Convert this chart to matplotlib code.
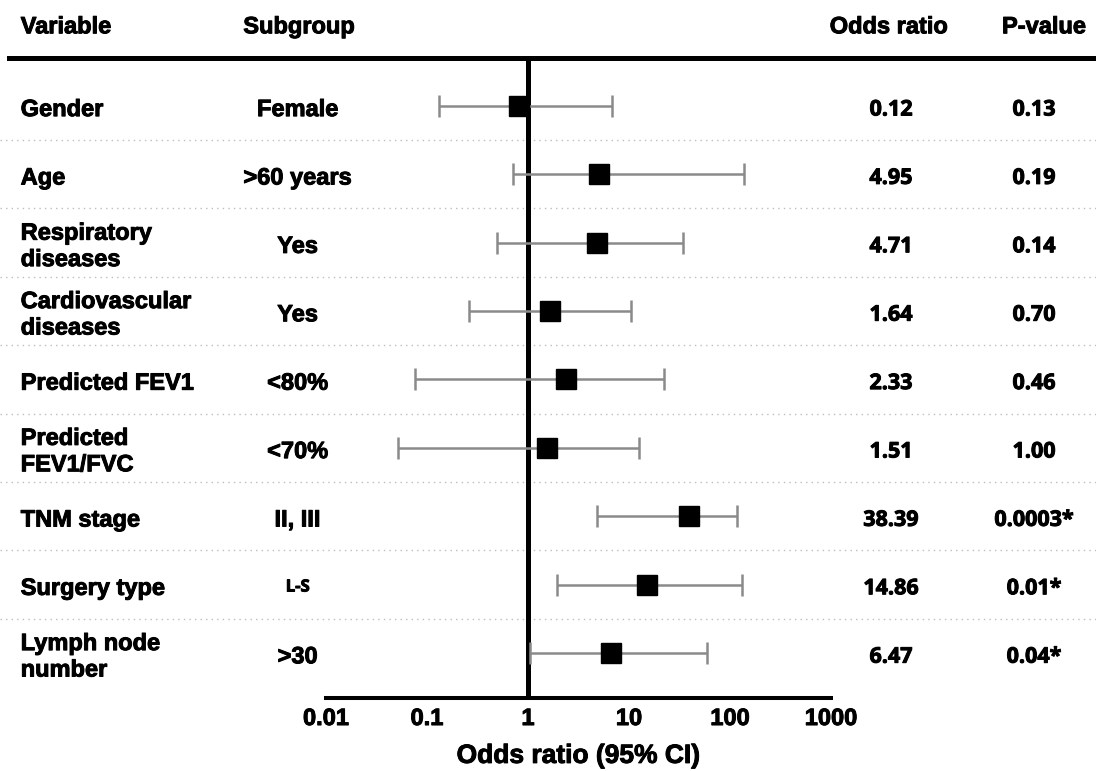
import matplotlib
matplotlib.use("Agg")
import matplotlib.pyplot as plt
import matplotlib.patheffects as pe
from matplotlib.lines import Line2D
from matplotlib.ticker import NullLocator, FixedLocator, FixedFormatter
from matplotlib.transforms import blended_transform_factory

plt.rcParams['font.family'] = ['Liberation Sans', 'DejaVu Sans']

# ---------------- data ----------------
variables = ["Gender", "Age", "Respiratory\ndiseases", "Cardiovascular\ndiseases",
             "Predicted FEV1", "Predicted\nFEV1/FVC", "TNM stage", "Surgery type",
             "Lymph node\nnumber"]
subgroups = ["Female", ">60 years", "Yes", "Yes", "<80%", "<70%", "II, III", "L-S", ">30"]
or_point = [0.81, 5.05, 4.79, 1.67, 2.36, 1.54, 39.1, 15.0, 6.59]
ci_low = [0.13, 0.71, 0.49, 0.26, 0.076, 0.052, 4.85, 1.94, 1.05]
ci_high = [6.84, 138, 34.3, 10.4, 22.2, 12.6, 116, 131, 59.2]
or_labels = ["0.12", "4.95", "4.71", "1.64", "2.33", "1.51", "38.39", "14.86", "6.47"]
p_labels = ["0.13", "0.19", "0.14", "0.70", "0.46", "1.00", "0.0003*", "0.01*", "0.04*"]
x_ticks = [0.01, 0.1, 1, 10, 100, 1000]
x_tick_labels = ["0.01", "0.1", "1", "10", "100", "1000"]
headers = ["Variable", "Subgroup", "Odds ratio", "P-value"]
x_label = "Odds ratio (95% CI)"

# ---------------- layout ----------------
W, H = 1096, 771
row0, dy = 105.7, 68.4          # pixel centre of first row and row spacing
top_px, bot_px = 57.5, 698.0
fig = plt.figure(figsize=(W / 100, H / 100), dpi=100)
ax = fig.add_axes([326 / W, 1 - bot_px / H, 505 / W, (bot_px - top_px) / H])
ax.set_xscale('log')
ax.set_xlim(0.01, 1000)
ax.set_ylim((bot_px - row0) / dy, (top_px - row0) / dy)

rows = list(range(len(variables)))
heavy = [pe.withStroke(linewidth=0.7, foreground='black')]

# reference line at OR = 1
ax.axvline(1, color='black', lw=3.6, zorder=2)

# confidence intervals
xerr = [[p - lo for p, lo in zip(or_point, ci_low)],
        [hi - p for p, hi in zip(or_point, ci_high)]]
ax.errorbar(or_point, rows, xerr=xerr, fmt='none', ecolor='#8a8a8a',
            elinewidth=1.8, capsize=8, capthick=1.8, zorder=3)
ax.plot(or_point, rows, 's', ms=14.8, color='black', zorder=4)

# axes styling
for s in ['top', 'left', 'right']:
    ax.spines[s].set_visible(False)
ax.spines['bottom'].set_linewidth(2.9)
ax.xaxis.set_major_locator(FixedLocator(x_ticks))
ax.xaxis.set_major_formatter(FixedFormatter(x_tick_labels))
ax.xaxis.set_minor_locator(NullLocator())
ax.tick_params(axis='x', which='both', length=0, pad=6.5, labelsize=17)
for lbl in ax.get_xticklabels():
    lbl.set_fontweight('bold')
    lbl.set_path_effects(heavy)
ax.set_yticks([])
ax.set_xlabel(x_label, fontsize=19, fontweight='bold', labelpad=10, path_effects=heavy)
ax.patch.set_alpha(0)

# dotted separators across full width
trans = blended_transform_factory(fig.transFigure, ax.transData)
for i in rows[:-1]:
    ax.plot([0, 1], [i + 0.5, i + 0.5], transform=trans, color='#bdbdbd',
            lw=1.0, linestyle=(0, (1, 3)), clip_on=False, zorder=1)

# header line
fig.add_artist(Line2D([9 / W, 1], [1 - top_px / H, 1 - top_px / H],
                      color='black', lw=3.6))

# headers
hdr_base = 1 - 33.3 / H
hkw = dict(va='baseline', fontsize=17, fontweight='bold', path_effects=heavy)
fig.text(20.7 / W, hdr_base, headers[0], ha='left', **hkw)
fig.text(243.3 / W, hdr_base, headers[1], ha='left', **hkw)
fig.text(889 / W, hdr_base, headers[2], ha='center', **hkw)
fig.text(1044 / W, hdr_base, headers[3], ha='center', **hkw)


def put_lines(x_px, row, text, ha, size, family=None, cap_half=8.4, spacing=26.4):
    lines = text.split('\n')
    n = len(lines)
    for k, line in enumerate(lines):
        off = 2 + cap_half + (k - (n - 1) / 2) * spacing
        kw = dict(ha=ha, va='baseline', fontsize=size, fontweight='bold',
                  transform=trans, path_effects=heavy)
        if family:
            kw['family'] = family
        ax.text(x_px / W, row + off / dy, line, **kw)


num_font = ['Open Sans', 'DejaVu Sans']
for i in rows:
    put_lines(20.7, i, variables[i], 'left', 17)
    if subgroups[i] == "L-S":
        put_lines(297.7, i, subgroups[i], 'center', 12, family=num_font, cap_half=5.0)
    else:
        put_lines(297.7, i, subgroups[i], 'center', 17)
    put_lines(891, i, or_labels[i], 'center', 15.5, family=num_font, cap_half=7.8)
    put_lines(1034, i, p_labels[i], 'center', 15.5, family=num_font, cap_half=7.8)

fig.savefig('out.png', dpi=100)
